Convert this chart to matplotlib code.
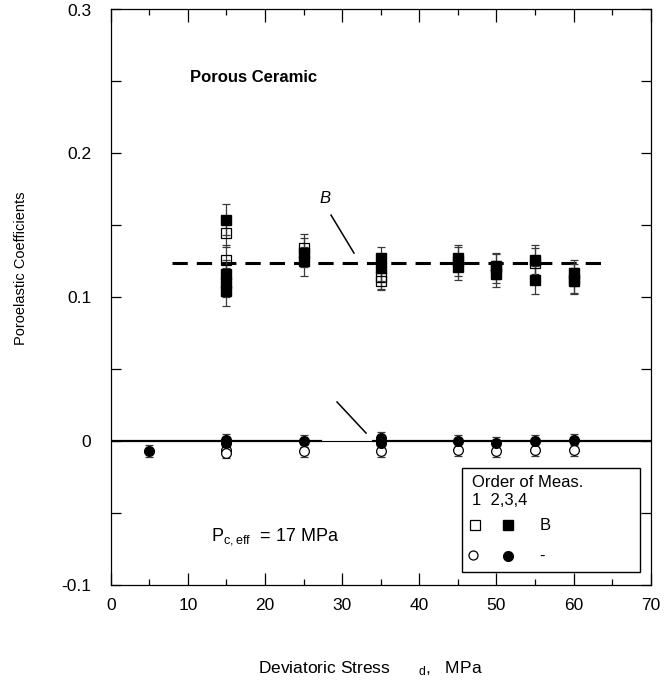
import matplotlib
matplotlib.use("Agg")
import matplotlib.pyplot as plt
from matplotlib.ticker import MultipleLocator, FuncFormatter
from matplotlib.patches import Rectangle

plt.rcParams["font.family"] = ["Liberation Sans", "DejaVu Sans"]
plt.rcParams["mathtext.fontset"] = "custom"
plt.rcParams["mathtext.rm"] = "Liberation Sans"
plt.rcParams["mathtext.it"] = "Liberation Sans:italic"
plt.rcParams["axes.unicode_minus"] = False
plt.rcParams["lines.scale_dashes"] = False

# Skempton-type coefficient B: first measurement (open) and repeats 2,3,4 (filled)
stress_b_first = [15, 15, 25, 35, 35, 45, 50, 55, 60]
b_first = [0.145, 0.126, 0.134, 0.114, 0.111, 0.125, 0.120, 0.124, 0.113]
b_first_err = [0.010, 0.010, 0.010, 0.008, 0.006, 0.010, 0.010, 0.010, 0.010]

stress_b_later = [15, 15, 15, 15, 25, 25, 35, 35, 45, 45, 50, 50, 55, 55, 60, 60]
b_later = [0.154, 0.116, 0.110, 0.104, 0.131, 0.125, 0.127, 0.120,
           0.127, 0.121, 0.122, 0.116, 0.126, 0.112, 0.117, 0.111]
b_later_err = [0.011, 0.010, 0.010, 0.010, 0.010, 0.010, 0.008, 0.009,
               0.009, 0.009, 0.009, 0.009, 0.010, 0.010, 0.009, 0.009]

# Second coefficient (near zero)
stress_z_first = [15, 15, 25, 35, 45, 50, 55, 60]
z_first = [-0.006, -0.008, -0.007, -0.007, -0.006, -0.007, -0.006, -0.006]
stress_z_later = [5, 15, 15, 25, 35, 35, 45, 50, 55, 60]
z_later = [-0.007, 0.001, -0.001, 0.000, 0.002, -0.001, 0.000, -0.001, 0.000, 0.001]
z_err = 0.004

b_mean = 0.1235
b_span = [8, 63.5]

x_ticks = [0, 10, 20, 30, 40, 50, 60, 70]
y_ticks = [-0.1, 0.0, 0.1, 0.2, 0.3]

fig = plt.figure(figsize=(6.65, 6.85), dpi=100)
ax = fig.add_axes([110.7 / 665, 100 / 685, 540 / 665, 575.5 / 685])
ax.set_xlim(0, 70)
ax.set_ylim(-0.1, 0.3)

# reference lines
ax.plot(b_span, [b_mean, b_mean], color="black", lw=2.2, dashes=(11, 6.5), zorder=2)
ax.plot([0, 27.2], [0, 0], color="black", lw=1.6, zorder=2)
ax.plot([27.2, 34], [0, 0], color="black", lw=0.8, zorder=2)
ax.plot([34, 70], [0, 0], color="black", lw=1.6, zorder=2)

eb_kw = dict(fmt="none", ecolor="#3a3a3a", elinewidth=0.9, capsize=3.2, capthick=0.9, zorder=3)
ax.errorbar(stress_b_first, b_first, yerr=b_first_err, **eb_kw)
ax.errorbar(stress_b_later, b_later, yerr=b_later_err, **eb_kw)
ax.errorbar(stress_z_first, z_first, yerr=z_err, **eb_kw)
ax.errorbar(stress_z_later, z_later, yerr=z_err, **eb_kw)

ms = 7
ax.plot(stress_b_first, b_first, ls="none", marker="s", ms=ms, mfc="none", mec="black", mew=0.9, zorder=4)
ax.plot(stress_z_first, z_first, ls="none", marker="o", ms=ms, mfc="white", mec="black", mew=0.9, zorder=4)
ax.plot(stress_b_later, b_later, ls="none", marker="s", ms=ms, mfc="black", mec="black", zorder=5)
ax.plot(stress_z_later, z_later, ls="none", marker="o", ms=ms, mfc="black", mec="black", zorder=5)

# annotations
ax.text(27.76, 0.1689, "B", fontsize=12, style="italic", ha="center", va="center")
ax.plot([28.56, 31.54], [0.1571, 0.1307], color="black", lw=1.1)
ax.plot([29.34, 33.10], [0.0272, 0.0056], color="black", lw=1.1)
ax.text(10.28, 0.2526, "Porous Ceramic", fontsize=12, fontweight="bold", ha="left", va="center")
ax.text(13.0, -0.0688, r"P$_{\rm c,eff}$  = 17 MPa", fontsize=13, ha="left", va="baseline")

# key box
ax.add_patch(Rectangle((45.54, -0.091), 68.6 - 45.54, 0.091 - 0.0187,
                       fill=False, edgecolor="black", lw=1.0, zorder=6))
ax.text(46.8, -0.0291, "Order of Meas.", fontsize=12, ha="left", va="center", zorder=7)
ax.text(46.8, -0.0410, "1  2,3,4", fontsize=12, ha="left", va="center", zorder=7)
ax.plot([47.2], [-0.0583], marker="s", ms=6.5, mfc="white", mec="black", mew=0.9, zorder=7)
ax.plot([51.5], [-0.0583], marker="s", ms=6.5, mfc="black", mec="black", zorder=7)
ax.text(56.3, -0.0583, "B", fontsize=12, ha="center", va="center", zorder=7)
ax.plot([47.0], [-0.0792], marker="o", ms=6.5, mfc="white", mec="black", mew=0.9, zorder=7)
ax.plot([51.5], [-0.0800], marker="o", ms=7, mfc="black", mec="black", zorder=7)
ax.text(55.9, -0.0800, "-", fontsize=12, ha="center", va="center", zorder=7)

# axes styling
ax.set_xticks(x_ticks)
ax.set_yticks(y_ticks)
ax.xaxis.set_minor_locator(MultipleLocator(5))
ax.yaxis.set_minor_locator(MultipleLocator(0.05))
ax.yaxis.set_major_formatter(FuncFormatter(lambda v, p: "%g" % round(v, 3)))
ax.tick_params(axis="both", which="both", direction="in", top=True, right=True, width=0.9)
ax.tick_params(axis="y", which="both", length=7.2, pad=14, labelsize=12.5)
ax.tick_params(axis="x", which="major", length=9, pad=9, labelsize=12.5)
ax.tick_params(axis="x", which="minor", length=4)
for s in ax.spines.values():
    s.set_linewidth(0.9)

fig.text(21 / 665, 1 - 268 / 685, "Poroelastic Coefficients", rotation=90,
         fontsize=10.5, ha="center", va="center")
fig.text(370 / 665, 1 - 673 / 685, r"Deviatoric Stress      $_{\rm d}$,   MPa",
         fontsize=12.5, ha="center", va="baseline")

fig.savefig("out.png", dpi=100)
